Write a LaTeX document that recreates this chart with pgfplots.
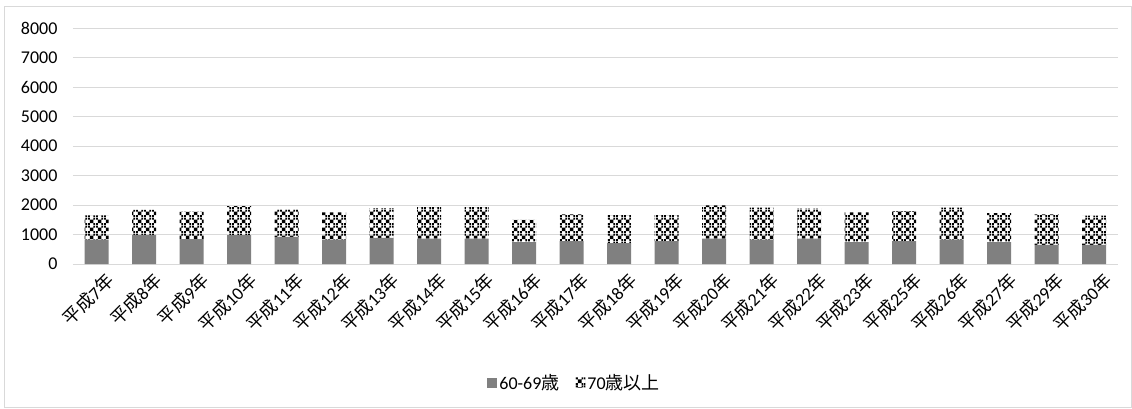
\documentclass[border=0pt]{standalone}
\usepackage{fontspec}
\setmainfont{Carlito}
\newfontfamily\cjk{Noto Sans CJK JP}
\usepackage{pgfplots}
\pgfplotsset{compat=1.18}
\usetikzlibrary{patterns}

% dotted diamond fill, like the Excel pattern
\pgfdeclarepatternformonly{dotdiamond}{\pgfqpoint{0pt}{0pt}}{\pgfqpoint{8pt}{8pt}}{\pgfqpoint{8pt}{8pt}}{
  \pgfpathrectangle{\pgfqpoint{0pt}{0pt}}{\pgfqpoint{2pt}{2pt}}
  \pgfpathrectangle{\pgfqpoint{2pt}{2pt}}{\pgfqpoint{2pt}{2pt}}
  \pgfpathrectangle{\pgfqpoint{4pt}{4pt}}{\pgfqpoint{2pt}{2pt}}
  \pgfpathrectangle{\pgfqpoint{6pt}{6pt}}{\pgfqpoint{2pt}{2pt}}
  \pgfpathrectangle{\pgfqpoint{6pt}{0pt}}{\pgfqpoint{2pt}{2pt}}
  \pgfpathrectangle{\pgfqpoint{4pt}{2pt}}{\pgfqpoint{2pt}{2pt}}
  \pgfpathrectangle{\pgfqpoint{2pt}{4pt}}{\pgfqpoint{2pt}{2pt}}
  \pgfpathrectangle{\pgfqpoint{0pt}{6pt}}{\pgfqpoint{2pt}{2pt}}
  \pgfusepath{fill}
}

\newcommand{\hs}[1]{{\cjk 平成}#1{\cjk 年}}
\newcommand{\lbl}{\fontsize{18}{22}\selectfont}

\begin{document}
\begin{tikzpicture}
\useasboundingbox (0,0) rectangle (1132pt,-408pt);
\draw[gray!30, line width=0.8pt] (4.5pt,-6.5pt) rectangle (1131pt,-407pt);
\begin{axis}[
    at={(73pt,-264pt)}, anchor=south west,
    scale only axis,
    width=1045pt, height=236pt,
    ybar stacked,
    bar width=24pt,
    xmin=-0.5, xmax=21.5,
    ymin=0, ymax=8000,
    ytick distance=1000,
    xtick=data,
    xticklabels={\hs{7},\hs{8},\hs{9},\hs{10},\hs{11},\hs{12},\hs{13},\hs{14},\hs{15},\hs{16},\hs{17},\hs{18},\hs{19},\hs{20},\hs{21},\hs{22},\hs{23},\hs{25},\hs{26},\hs{27},\hs{29},\hs{30}},
    xticklabel style={rotate=45, anchor=north east, font=\lbl, xshift=4pt, yshift=-7pt},
    yticklabel style={font=\lbl, xshift=-12pt},
    /pgf/number format/assume math mode=true,
    scaled y ticks=false,
    yticklabel={\pgfmathprintnumber[fixed,1000 sep={}]{\tick}},
    major tick length=0pt,
    axis line style={draw=none},
    ymajorgrids,
    grid style={gray!30, line width=0.8pt},
    legend columns=2,
    legend style={at={(axis description cs:0.480,-0.504)}, anchor=center,
        draw=none, fill=none, font=\lbl,
        /tikz/every even column/.append style={column sep=14pt}},
    legend image code/.code={\fill[#1] (0pt,-5pt) rectangle (10pt,5pt);},
]
% 60-69
\addplot[fill=gray, draw=none] coordinates {
 (0,830) (1,990) (2,841) (3,977) (4,920) (5,830) (6,886) (7,864) (8,864) (9,739) (10,773)
 (11,705) (12,773) (13,864) (14,830) (15,864) (16,739) (17,773) (18,830) (19,739) (20,648) (21,648)};
% 70+
\addplot[pattern=dotdiamond, pattern color=black, draw=none] coordinates {
 (0,818) (1,851) (2,932) (3,989) (4,932) (5,920) (6,1000) (7,1068) (8,1068) (9,761) (10,909)
 (11,954) (12,886) (13,1125) (14,1079) (15,1011) (16,1011) (17,1022) (18,1079) (19,988) (20,1034) (21,988)};
\legend{60-69{\cjk 歳}, 70{\cjk 歳以上}}
\end{axis}
\end{tikzpicture}
\end{document}
